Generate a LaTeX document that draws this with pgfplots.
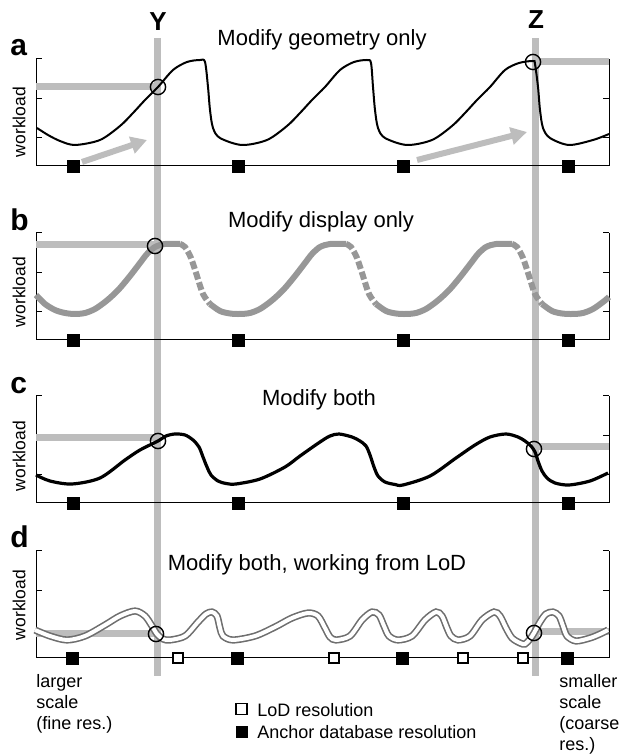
\documentclass[border=0pt]{standalone}
\usepackage{pgfplots}
\pgfplotsset{compat=1.18}
\usepackage{pgfplotstable}
\usepackage{fontspec}
\setmainfont{Liberation Sans}
\usetikzlibrary{arrows.meta}

\definecolor{lgrey}{HTML}{BDBDBD}
\definecolor{mgrey}{HTML}{979797}
\definecolor{dgrey}{HTML}{6E6E6E}

% x in image pixels, h = height above the panel baseline (pixels)
\pgfplotstableread{
x h
37 38
48 31
60 25
75 21
100 26
120 40
133 53
145 66
158 79
173 96
187 104
200 106
205 104
208 79
210 56
213 38
220 28
242 21
267 26
287 40
300 53
312 66
325 79
340 96
354 104
367 106
371 103
373 79
375 56
378 38
385 28
407 21
432 26
452 40
465 53
477 66
490 79
505 96
519 103
533 105
535 102
538 79
540 56
543 38
550 28
569 21
593 26
609 32
}\curveA

\pgfplotstableread{
x h
36 28
50 22
72 19
100 25
125 43
140 53
158 62
166 67
175 69
185 68
193 63
199 56
203 46
207 36
211 28
218 22
226 19.5
236 19
260 24
285 36
300 47
320 61
330 67
339 69
352 66
360 62
366 57
370 48
374 36
378 27
385 21
395 18.5
403 18
430 27
456 45
475 58
490 66
506 69
518 66
525 62
531 57
535 51
538 42
542 32
547 25
555 20
569 18
590 22
608 30
}\curveC

\pgfplotstableread{
x h
35 28
50 22
67 18
85 22
105 33
120 42
135 47
145 42
152 32
157 24
163 19
170 18
185 22
198 36
206 44
212 46
217 42
220 30
223 22
233 18
255 22
275 31
292 40
308 45
318 42
325 30
330 21
336 18
350 22
362 38
372 46
379 43
384 32
389 22
398 18
412 22
425 38
436 46
442 42
447 30
451 22
458 18
470 22
482 38
494 46
500 42
506 30
512 20
520 15
525 14
530 19
534 25
540 36
546 44
553 46
559 42
563 32
567 22
576 17
590 20
600 24
608 28
}\curveD

\pgfplotsset{
  panel/.style={
    anchor=south west, scale only axis,
    width=286.5pt, height=53.5pt,
    xmin=36, xmax=609, ymin=0, ymax=107,
    axis x line=bottom, axis y line=box,
    axis line style={-, line width=0.5pt, black},
    xtick=\empty, ytick={28,67,107}, yticklabels={},
    ytick pos=both, tick align=inside,
    major tick length=3pt, tick style={black, line width=0.5pt},
    clip=false,
  },
  anchorsq/.style={only marks, mark=square*, mark size=3pt, black},
  refline/.style={lgrey, line width=3.5pt},
  ring/.style={only marks, mark=o, mark size=3.8pt, mark options={black, line width=0.7pt}},
  bgrey/.style={mgrey, line width=3pt, smooth, tension=0.5},
  bdash/.style={mgrey, line width=3pt, smooth, tension=0.5, dash pattern=on 4pt off 1.5pt},
}

\begin{document}
\begin{tikzpicture}
\useasboundingbox (0,0) rectangle (313pt,377.5pt);

% overlay in pixel coordinates: guide lines and all text
\begin{axis}[at={(0pt,0pt)}, anchor=south west, scale only axis,
  width=313pt, height=377.5pt, xmin=0, xmax=626, ymin=0, ymax=755,
  y dir=reverse, hide axis, clip=false]
\addplot[lgrey, line width=3.5pt] coordinates {(157,38) (157,676)};
\addplot[lgrey, line width=3.5pt] coordinates {(535,38) (535,676)};
\node[anchor=base, font=\fontsize{13}{15}\selectfont\bfseries] at (axis cs:158,30) {Y};
\node[anchor=base, font=\fontsize{13}{15}\selectfont\bfseries] at (axis cs:536,28) {Z};
\node[anchor=base west, inner sep=0pt, font=\fontsize{15}{17}\selectfont\bfseries] at (axis cs:10,55) {a};
\node[anchor=base west, inner sep=0pt, font=\fontsize{15}{17}\selectfont\bfseries] at (axis cs:10,230) {b};
\node[anchor=base west, inner sep=0pt, font=\fontsize{15}{17}\selectfont\bfseries] at (axis cs:10,393) {c};
\node[anchor=base west, inner sep=0pt, font=\fontsize{15}{17}\selectfont\bfseries] at (axis cs:10,547) {d};
\node[anchor=base, font=\fontsize{11}{13}\selectfont] at (axis cs:322,45) {Modify geometry only};
\node[anchor=base, font=\fontsize{11}{13}\selectfont] at (axis cs:321,227) {Modify display only};
\node[anchor=base, font=\fontsize{11}{13}\selectfont] at (axis cs:319,405) {Modify both};
\node[anchor=base, font=\fontsize{11}{13}\selectfont] at (axis cs:317,570) {Modify both, working from LoD};
\node[rotate=90, font=\fontsize{8.75}{10}\selectfont] at (axis cs:19,122) {workload};
\node[rotate=90, font=\fontsize{8.75}{10}\selectfont] at (axis cs:19,292) {workload};
\node[rotate=90, font=\fontsize{8.75}{10}\selectfont] at (axis cs:19,456) {workload};
\node[rotate=90, font=\fontsize{8.75}{10}\selectfont] at (axis cs:19,605) {workload};
\node[anchor=base west, inner sep=0pt, font=\fontsize{9}{11}\selectfont] at (axis cs:36,687) {larger};
\node[anchor=base west, inner sep=0pt, font=\fontsize{9}{11}\selectfont] at (axis cs:36,708) {scale};
\node[anchor=base west, inner sep=0pt, font=\fontsize{9}{11}\selectfont] at (axis cs:36,729) {(fine res.)};
\node[anchor=base west, inner sep=0pt, font=\fontsize{9}{11}\selectfont] at (axis cs:559,687) {smaller};
\node[anchor=base west, inner sep=0pt, font=\fontsize{9}{11}\selectfont] at (axis cs:559,708) {scale};
\node[anchor=base west, inner sep=0pt, font=\fontsize{9}{11}\selectfont] at (axis cs:559,729) {(coarse};
\node[anchor=base west, inner sep=0pt, font=\fontsize{9}{11}\selectfont] at (axis cs:559,750) {res.)};
\addplot[only marks, mark=square*, mark size=2.75pt, mark options={fill=white, draw=black, line width=0.8pt}] coordinates {(241.5,709)};
\addplot[only marks, mark=square*, mark size=2.75pt, black] coordinates {(241.5,732)};
\node[anchor=base west, inner sep=0pt, font=\fontsize{9}{11}\selectfont] at (axis cs:257,716) {LoD resolution};
\node[anchor=base west, inner sep=0pt, font=\fontsize{9}{11}\selectfont] at (axis cs:257,738) {Anchor database resolution};
\end{axis}

% a: modify geometry only
\begin{axis}[panel, at={(18pt,294.5pt)}]
\addplot[refline] coordinates {(36,79) (158,79)};
\addplot[refline] coordinates {(533,104) (609,104)};
\addplot[lgrey, line width=3pt, -{Triangle[length=8pt,width=8.5pt]}] coordinates {(82,4) (147,26)};
\addplot[lgrey, line width=3pt, -{Triangle[length=8pt,width=8.5pt]}] coordinates {(417,6) (527,34)};
\addplot[black, line width=1pt, smooth, tension=0.5] table[x=x, y=h] {\curveA};
\addplot[ring] coordinates {(158,79) (533,104)};
\addplot[anchorsq] coordinates {(73,0) (238,0) (403,0) (568,0)};
\end{axis}

% b: modify display only
\begin{axis}[panel, at={(18pt,207.5pt)}]
\addplot[refline] coordinates {(36,95) (155,95)};
\addplot[bgrey] coordinates {(36,45) (45,36) (55,30) (65,27) (75,26) (85,27) (95,31) (105,38) (112,44) (120,52) (130,64) (140,77) (147,86) (155,93) (165,96) (180,96)};
\addplot[bdash] coordinates {(180,96) (185,93) (191,82) (197,64) (203,46) (210,36)};
\addplot[bgrey] coordinates {(210,36) (220,29) (230,26.5) (240,26) (250,27) (260,31) (270,38) (277,44) (285,52) (295,64) (305,77) (312,86) (320,93) (330,96) (346,96)};
\addplot[bdash] coordinates {(346,96) (351,93) (357,82) (363,64) (369,46) (376,36)};
\addplot[bgrey] coordinates {(376,36) (386,29) (396,26.5) (406,26) (416,27) (426,31) (436,38) (443,44) (451,52) (461,64) (471,77) (478,86) (486,93) (496,96) (512,96)};
\addplot[bdash] coordinates {(512,96) (517,93) (523,82) (529,64) (535,46) (542,36)};
\addplot[bgrey] coordinates {(542,36) (552,29) (562,26.5) (573,26) (583,27) (593,31) (603,38) (609,43)};
\addplot[ring] coordinates {(155,94)};
\addplot[anchorsq] coordinates {(73,0) (238,0) (403,0) (568,0)};
\end{axis}

% c: modify both
\begin{axis}[panel, at={(18pt,126pt)}]
\addplot[refline] coordinates {(36,65) (158,65)};
\addplot[refline] coordinates {(534,56) (609,56)};
\addplot[black, line width=1.6pt, smooth, tension=0.5] table[x=x, y=h] {\curveC};
\addplot[ring] coordinates {(158,62) (534,54)};
\addplot[anchorsq] coordinates {(73,0) (238,0) (403,0) (568,0)};
\end{axis}

% d: modify both, working from LoD
\begin{axis}[panel, at={(18pt,48.5pt)}]
\addplot[refline] coordinates {(36,24) (156,24)};
\addplot[refline] coordinates {(534,26) (609,26)};
\addplot[dgrey, line width=3.6pt, smooth, tension=0.5] table[x=x, y=h] {\curveD};
\addplot[white, line width=2pt, smooth, tension=0.5] table[x=x, y=h] {\curveD};
\addplot[ring] coordinates {(156,24) (534,25)};
\addplot[only marks, mark=square*, mark size=2.6pt, mark options={fill=white, draw=black, line width=0.8pt}] coordinates {(178,0) (334,0) (463,0) (523,0)};
\addplot[anchorsq] coordinates {(72,0) (237,0) (402,0) (567,0)};
\end{axis}
\end{tikzpicture}
\end{document}
